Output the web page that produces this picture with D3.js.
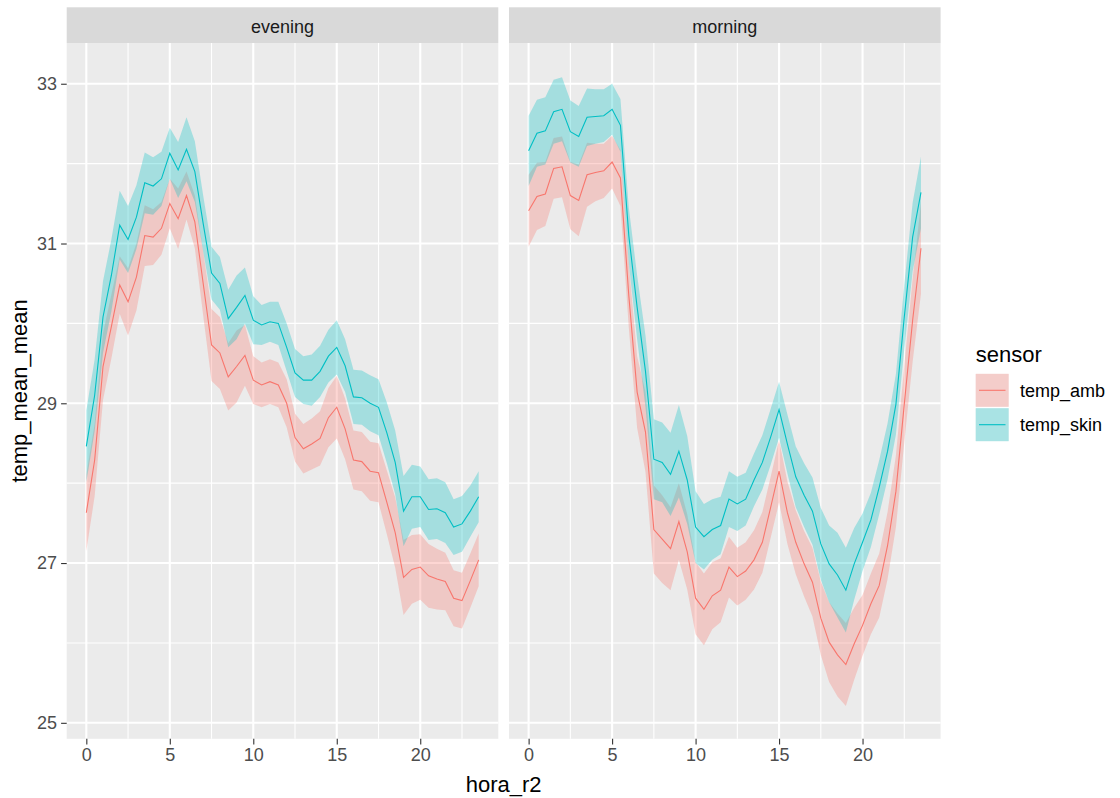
<!DOCTYPE html>
<html>
<head>
<meta charset="utf-8">
<script src="https://cdn.jsdelivr.net/npm/d3@7"></script>
<style>
  html, body { margin: 0; padding: 0; background: #fff; }
  svg { display: block; font-family: "Liberation Sans", Arial, sans-serif; }
</style>
</head>
<body>
<svg id="chart" width="1120" height="798"></svg>
<script>
// ---- data ----
const panels = ["evening", "morning"];
const sensors = ["temp_amb", "temp_skin"];
const hora = [0,0.5,1,1.5,2,2.5,3,3.5,4,4.5,5,5.5,6,6.5,7,7.5,8,8.5,9,9.5,
  10,10.5,11,11.5,12,12.5,13,13.5,14,14.5,15,15.5,16,16.5,17,17.5,18,18.5,19,19.5,
  20,20.5,21,21.5,22,22.5,23,23.5];
const xTicks = [0, 5, 10, 15, 20];
const yTicks = [25, 27, 29, 31, 33];

const eveningAmb = [27.63,28.29,29.46,29.96,30.48,30.27,30.58,31.1,31.08,31.19,
  31.5,31.31,31.6,31.27,30.5,29.73,29.63,29.33,29.46,29.6,
  29.29,29.23,29.27,29.23,29.0,28.57,28.43,28.49,28.56,28.82,
  28.95,28.68,28.29,28.27,28.15,28.13,27.76,27.38,26.82,26.92,
  26.95,26.84,26.8,26.77,26.56,26.53,26.78,27.04];
const eveningAmbCI = [.48,.45,.42,.40,.36,.42,.42,.38,.35,.33,
  .31,.38,.30,.33,.40,.45,.45,.42,.45,.38,
  .30,.28,.28,.28,.30,.30,.31,.32,.34,.37,
  .39,.38,.37,.37,.37,.37,.40,.44,.47,.43,
  .41,.40,.38,.36,.35,.35,.34,.33];
const eveningSkin = [28.46,29.1,30.08,30.6,31.23,31.05,31.33,31.76,31.72,31.81,
  32.13,31.92,32.18,31.9,31.25,30.63,30.5,30.06,30.2,30.35,
  30.04,29.98,30.02,30.0,29.7,29.38,29.29,29.29,29.4,29.59,
  29.7,29.47,29.08,29.07,29.0,28.95,28.63,28.26,27.65,27.83,
  27.83,27.67,27.68,27.63,27.45,27.49,27.65,27.83];
const eveningSkinCI = [.45,.45,.45,.45,.43,.42,.40,.38,.36,.34,
  .32,.35,.40,.38,.35,.33,.33,.36,.40,.35,
  .30,.25,.25,.27,.30,.30,.30,.32,.32,.33,
  .34,.33,.34,.34,.35,.35,.38,.40,.44,.40,
  .38,.38,.38,.38,.35,.35,.32,.32];
const morningAmb = [31.41,31.59,31.62,31.94,31.96,31.6,31.54,31.86,31.89,31.91,
  32.02,31.82,30.35,29.14,28.64,27.42,27.3,27.18,27.52,27.14,
  26.56,26.42,26.59,26.66,26.95,26.83,26.9,27.04,27.26,27.7,
  28.15,27.63,27.26,26.99,26.76,26.31,26.01,25.85,25.73,25.99,
  26.22,26.49,26.72,27.22,27.9,28.99,30.04,30.94];
const morningAmbCI = [.45,.42,.40,.38,.38,.42,.45,.40,.36,.34,
  .33,.35,.40,.45,.50,.55,.55,.52,.48,.47,
  .45,.45,.42,.40,.38,.36,.36,.37,.38,.38,
  .39,.39,.40,.41,.43,.46,.50,.52,.52,.45,
  .38,.38,.40,.42,.45,.48,.52,.57];
const morningSkin = [32.16,32.38,32.41,32.65,32.68,32.4,32.34,32.58,32.59,32.6,
  32.68,32.48,31.1,30.2,29.4,28.3,28.26,28.11,28.4,28.04,
  27.45,27.33,27.42,27.47,27.8,27.74,27.8,28.04,28.26,28.58,
  28.92,28.49,28.08,27.85,27.65,27.24,26.99,26.85,26.66,26.99,
  27.26,27.54,27.95,28.4,28.99,30.08,31.08,31.64];
const morningSkinCI = [.44,.42,.42,.40,.40,.39,.38,.36,.34,.33,
  .32,.33,.35,.40,.45,.50,.50,.52,.58,.55,
  .45,.41,.38,.36,.35,.34,.33,.33,.34,.35,
  .35,.37,.38,.40,.42,.45,.48,.53,.53,.45,
  .36,.34,.34,.35,.38,.40,.43,.45];

const seriesData = {
  evening: { temp_amb: [eveningAmb, eveningAmbCI], temp_skin: [eveningSkin, eveningSkinCI] },
  morning: { temp_amb: [morningAmb, morningAmbCI], temp_skin: [morningSkin, morningSkinCI] }
};
const colors = { temp_amb: "#F8766D", temp_skin: "#00BFC4" };

// ---- layout ----
const svg = d3.select("#chart");
const panelTop = 43, panelBottom = 738.8, stripTop = 7.3;
const panelX = { evening: [66.7, 498.3], morning: [509, 940.6] };
const FONT_SMALL = 18, FONT_TITLE = 22;

const y = d3.scaleLinear().domain([24.8, 33.51]).range([panelBottom, panelTop]);

panels.forEach(p => {
  const [x0, x1] = panelX[p];
  const x = d3.scaleLinear().domain([-1.175, 24.675]).range([x0, x1]);
  const g = svg.append("g");

  // background
  g.append("rect").attr("x", x0).attr("y", panelTop).attr("width", x1 - x0)
    .attr("height", panelBottom - panelTop).attr("fill", "#EBEBEB");

  // minor grid
  [2.5, 7.5, 12.5, 17.5, 22.5].forEach(v => g.append("line")
    .attr("x1", x(v)).attr("x2", x(v)).attr("y1", panelTop).attr("y2", panelBottom)
    .attr("stroke", "#fff").attr("stroke-width", 1.1));
  [26, 28, 30, 32].forEach(v => g.append("line")
    .attr("x1", x0).attr("x2", x1).attr("y1", y(v)).attr("y2", y(v))
    .attr("stroke", "#fff").attr("stroke-width", 1.1));
  // major grid
  xTicks.forEach(v => g.append("line")
    .attr("x1", x(v)).attr("x2", x(v)).attr("y1", panelTop).attr("y2", panelBottom)
    .attr("stroke", "#fff").attr("stroke-width", 2.1));
  yTicks.forEach(v => g.append("line")
    .attr("x1", x0).attr("x2", x1).attr("y1", y(v)).attr("y2", y(v))
    .attr("stroke", "#fff").attr("stroke-width", 2.1));

  // ribbons
  sensors.forEach(s => {
    const [m, ci] = seriesData[p][s];
    const pts = hora.map((h, i) => ({ h, m: m[i], lo: m[i] - ci[i], hi: m[i] + ci[i] }));
    g.append("path").datum(pts)
      .attr("d", d3.area().x(d => x(d.h)).y0(d => y(d.lo)).y1(d => y(d.hi)))
      .attr("fill", colors[s]).attr("fill-opacity", 0.3);
  });
  // lines
  sensors.forEach(s => {
    const [m] = seriesData[p][s];
    const pts = hora.map((h, i) => ({ h, m: m[i] }));
    g.append("path").datum(pts)
      .attr("d", d3.line().x(d => x(d.h)).y(d => y(d.m)))
      .attr("fill", "none").attr("stroke", colors[s]).attr("stroke-width", 1.1);
  });

  // strip
  g.append("rect").attr("x", x0).attr("y", stripTop).attr("width", x1 - x0)
    .attr("height", panelTop - stripTop).attr("fill", "#D9D9D9");
  g.append("text").attr("x", (x0 + x1) / 2).attr("y", 32.5)
    .attr("text-anchor", "middle").attr("font-size", FONT_SMALL).attr("fill", "#1A1A1A")
    .text(p);

  // x axis
  const xAxis = d3.axisBottom(x).tickValues(xTicks).tickSize(5.6).tickPadding(4);
  const ax = g.append("g").attr("transform", `translate(0,${panelBottom})`).call(xAxis);
  ax.select(".domain").remove();
  ax.selectAll(".tick line").attr("stroke", "#333").attr("stroke-width", 1.1);
  ax.selectAll(".tick text").attr("font-size", FONT_SMALL).attr("fill", "#4D4D4D")
    .attr("font-family", "Liberation Sans, Arial, sans-serif");
});

// y axis (left of evening)
const yAxis = d3.axisLeft(y).tickValues(yTicks).tickSize(5.6).tickPadding(4);
const ay = svg.append("g").attr("transform", `translate(${panelX.evening[0]},0)`).call(yAxis);
ay.select(".domain").remove();
ay.selectAll(".tick line").attr("stroke", "#333").attr("stroke-width", 1.1);
ay.selectAll(".tick text").attr("font-size", FONT_SMALL).attr("fill", "#4D4D4D")
  .attr("font-family", "Liberation Sans, Arial, sans-serif");

// axis titles
svg.append("text").attr("x", (panelX.evening[0] + panelX.morning[1]) / 2).attr("y", 792)
  .attr("text-anchor", "middle").attr("font-size", FONT_TITLE).attr("fill", "#000").text("hora_r2");
svg.append("text").attr("transform", `translate(27,${(panelTop + panelBottom) / 2}) rotate(-90)`)
  .attr("text-anchor", "middle").attr("font-size", FONT_TITLE).attr("fill", "#000").text("temp_mean_mean");

// legend
const lg = svg.append("g");
lg.append("text").attr("x", 975.7).attr("y", 362).attr("font-size", FONT_TITLE).attr("fill", "#000").text("sensor");
sensors.forEach((s, i) => {
  const ky = 373.8 + i * 34.4;
  lg.append("rect").attr("x", 975.7).attr("y", ky).attr("width", 33).attr("height", 33)
    .attr("fill", "#F2F2F2");
  lg.append("rect").attr("x", 975.7).attr("y", ky).attr("width", 33).attr("height", 33)
    .attr("fill", colors[s]).attr("fill-opacity", 0.3);
  lg.append("line").attr("x1", 979).attr("x2", 1005.5).attr("y1", ky + 16.5).attr("y2", ky + 16.5)
    .attr("stroke", colors[s]).attr("stroke-width", 1.1);
  lg.append("text").attr("x", 1020).attr("y", ky + 16.5 + 6.5).attr("font-size", FONT_SMALL)
    .attr("fill", "#000").text(s);
});
</script>
</body>
</html>
